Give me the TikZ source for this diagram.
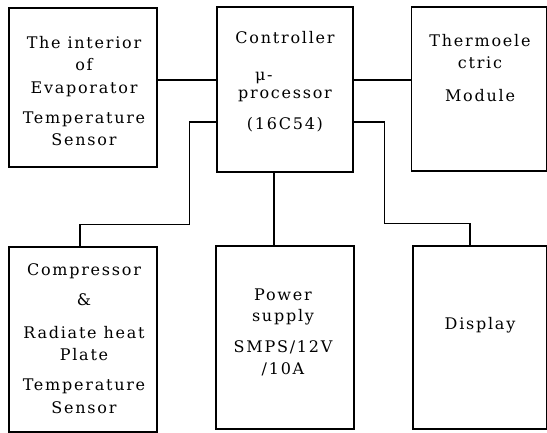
\documentclass[tikz,border=0pt]{standalone}
\usepackage{fontspec}
\setmainfont{DejaVu Serif}[LetterSpace=11]
\usetikzlibrary{positioning}

\begin{document}
\begin{tikzpicture}[x=1pt,y=-1pt,line width=1.3pt, blk/.style={draw,inner sep=0pt}, txt/.style={align=center,inner sep=0pt,anchor=north,font=\fontsize{16}{22.5}\selectfont}]
  \useasboundingbox (0,0) rectangle (547,433);
  \node (evap) [blk,minimum width=148pt,minimum height=159pt] at (83,87.5) {};
  \node (ctrl) [blk,minimum width=136pt,minimum height=165pt] at (285,89.5) {};
  \node (thermo) [blk,minimum width=135pt,minimum height=164pt] at (479,89) {};
  \node (comp) [blk,minimum width=148pt,minimum height=185pt] at (83,339.5) {};
  \node (power) [blk,minimum width=138pt,minimum height=183pt] at (285,337.5) {};
  \node (disp) [blk,minimum width=134pt,minimum height=183pt] at (480,337.5) {};
  \node (evaptxt) [txt] at (84,35.5) {The interior\\ of\\ Evaporator\\[7.5pt] Temperature\\ Sensor};
  \node (ctrltxt) [txt] at (285,30.5) {Controller\\[14.5pt] \makebox[60pt][l]{μ-}\\[-4.5pt] processor\\[8.5pt] (16C54)};
  \node (thermotxt) [txt] at (480,33.5) {Thermoele\\ ctric\\[10.5pt] Module};
  \node (comptxt) [txt] at (84,262.5) {Compressor\\[7.5pt] \&\\[10.5pt] Radiate heat\\ Plate\\[7.5pt] Temperature\\ Sensor};
  \node (powertxt) [txt] at (283,288) {Power\\[-1.5pt] supply\\[8.5pt] SMPS/12V\\ /10A};
  \node (disptxt) [txt] at (480,316.5) {Display};
  \draw ([yshift=7.5pt]evap.east) -- ([yshift=9.5pt]ctrl.west);
  \draw ([yshift=9.5pt]ctrl.east) -- ([yshift=9pt]thermo.west);
  \draw ([yshift=-32.5pt]ctrl.west) -- ++(-27,0) |- ([xshift=-3pt,yshift=22pt]comp.north) -- ([xshift=-3pt]comp.north);
  \draw ([xshift=-11pt]ctrl.south) -- ([xshift=-11pt]power.north);
  \draw ([yshift=-32.5pt]ctrl.east) -- ++(31,0) |- ([xshift=-10pt,yshift=22pt]disp.north) -- ([xshift=-10pt]disp.north);
\end{tikzpicture}
\end{document}
